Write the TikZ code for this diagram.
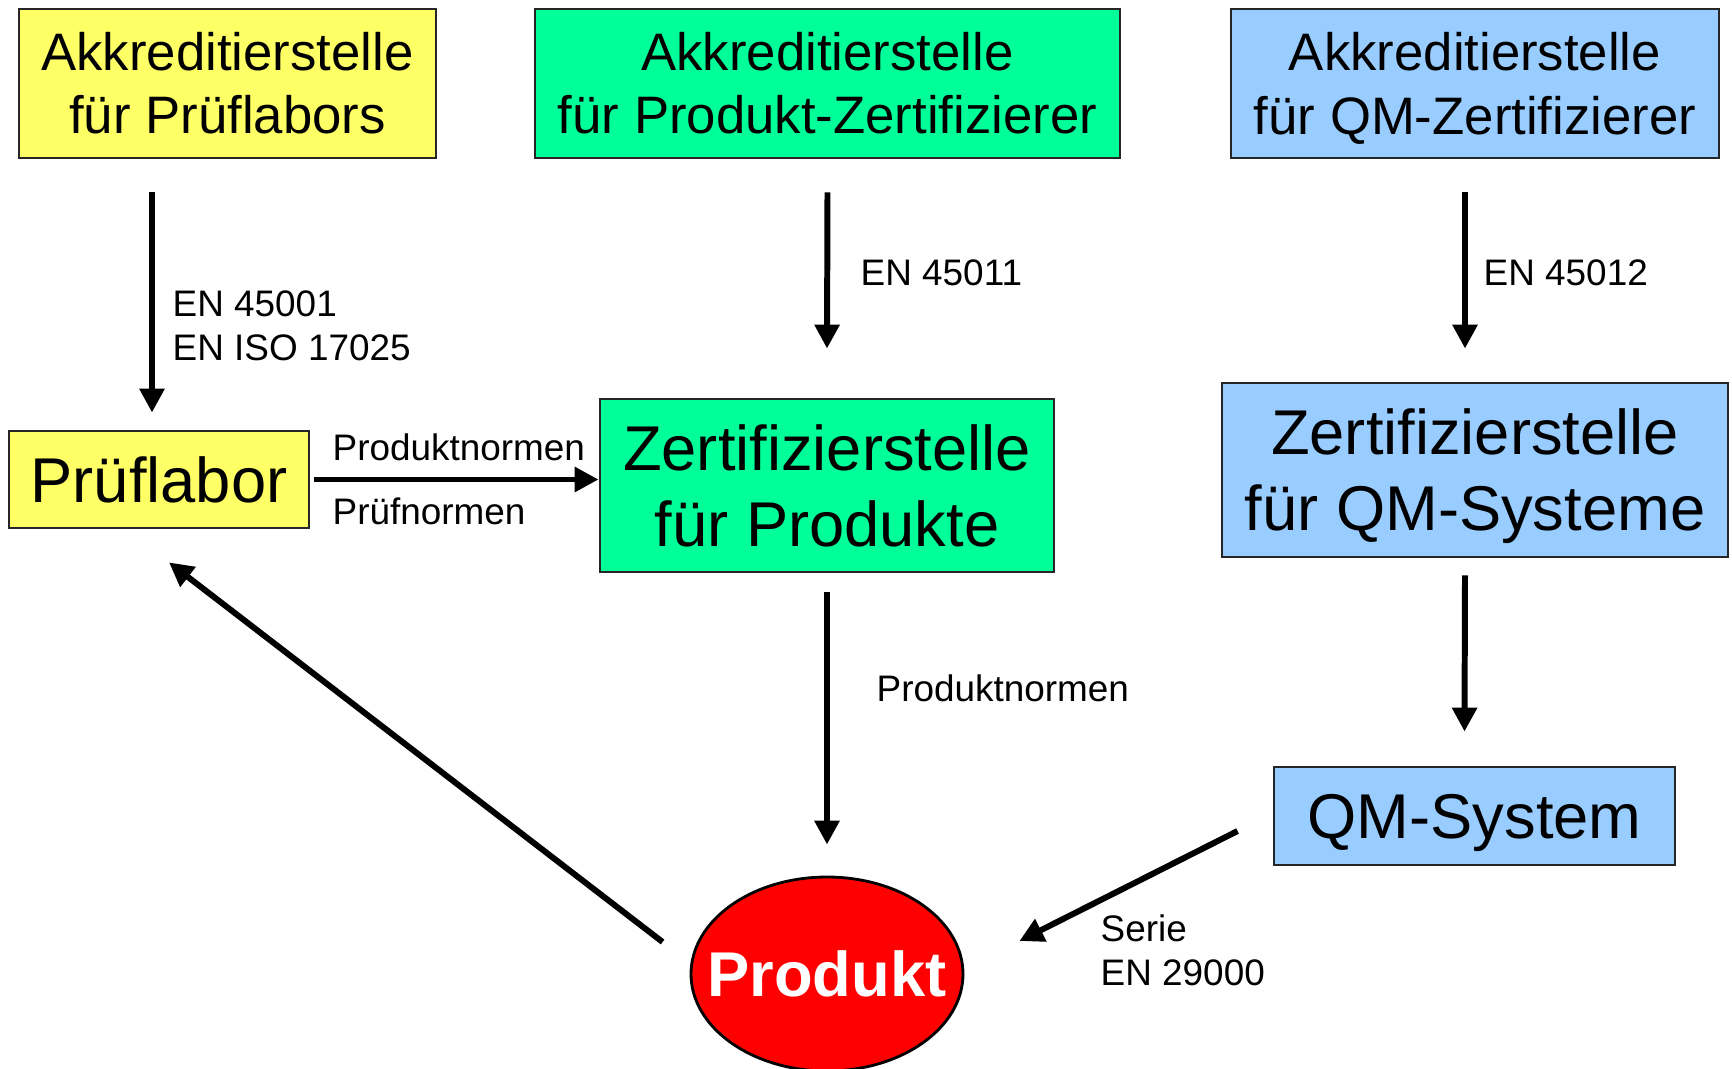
\documentclass[tikz,border=0pt]{standalone}
\usepackage{fontspec}
\setmainfont[Ligatures=NoCommon]{Liberation Sans}
\usepackage{tikz}
\usetikzlibrary{shapes,arrows.meta,positioning,calc}

\definecolor{labgelb}{RGB}{255,255,102}
\definecolor{prodgruen}{RGB}{0,255,153}
\definecolor{qmblau}{RGB}{153,204,255}
\definecolor{prodrot}{RGB}{255,0,0}

\tikzset{
    box/.style={draw=black!85, line width=0.8pt, align=center, inner sep=0pt},
    kleinbox/.style={box, font=\fontsize{15}{18}\selectfont, minimum height=1.49cm},
    grossbox/.style={box, font=\fontsize{18}{21.6}\selectfont},
    pfeil/.style={-{Triangle[length=0.24cm,width=0.24cm]}, line width=1.7pt},
    norm/.style={anchor=west, align=left, inner sep=0pt, font=\fontsize{10.5}{12.5}\selectfont}
}

\begin{document}
\begin{tikzpicture}
    \useasboundingbox (0,0) rectangle (17.32,-10.68);
    % Akkreditierstellen
    \node[kleinbox, fill=labgelb, minimum width=4.17cm] (akpl) at (2.275,-0.835) {Akkreditierstelle\\für Prüflabors};
    \node[kleinbox, fill=prodgruen, minimum width=5.85cm] (akpz) at (8.275,-0.835) {Akkreditierstelle\\für Produkt-Zertifizierer};
    \node[kleinbox, fill=qmblau, minimum width=4.88cm] (akqz) at (14.75,-0.835) {Akkreditierstelle\\\smash{für QM-Zertifizierer}};
    % Stellen
    \node[grossbox, fill=labgelb, minimum width=3.0cm, minimum height=0.97cm] (labor) at (1.59,-4.795) {Prüflabor};
    \node[grossbox, fill=prodgruen, minimum width=4.54cm, minimum height=1.73cm] (zprod) at (8.27,-4.855) {Zertifizierstelle\\für Produkte};
    \node[grossbox, fill=qmblau, minimum width=5.06cm, minimum height=1.74cm] (zqm) at (14.75,-4.70) {Zertifizierstelle\\\smash{für QM-Systeme}};
    \node[grossbox, fill=qmblau, minimum width=4.01cm, minimum height=0.98cm, text depth=0pt] (qmsys) at (14.745,-8.16) {QM-System};
    \node[ellipse, draw=black, line width=0.8pt, fill=prodrot, minimum width=2.72cm, minimum height=1.94cm, inner sep=0pt,
          text=white, font=\fontsize{18}{21.6}\selectfont\bfseries] (produkt) at (8.27,-9.74) {\makebox[0pt][c]{Produkt}};

    % Pfeile
    \draw[pfeil] ([xshift=-0.07cm,yshift=-0.33cm]labor.north |- akpl.south) -- ([xshift=-0.07cm,yshift=0.17cm]labor.north);
    \draw[pfeil] ([yshift=-0.33cm]akpz.south) -- ([yshift=0.49cm]zprod.north);
    \draw[pfeil] ([xshift=-0.1cm,yshift=-0.33cm]akqz.south) -- ([xshift=-0.1cm,yshift=0.33cm]zqm.north);
    \draw[pfeil] ([xshift=-0.1cm,yshift=-0.17cm]zqm.south) -- ([xshift=-0.1cm,yshift=0.34cm]qmsys.north);
    \draw[pfeil] ([yshift=-0.19cm]zprod.south) -- ([yshift=0.31cm]produkt.north);
    \draw[pfeil] ([xshift=0.04cm]labor.east) -- (labor.east -| zprod.west);
    \draw[pfeil] ([shift={(-0.35,-0.15)}]qmsys.west) -- ([shift={(0.55,0.33)}]produkt.east);
    \draw[pfeil] ([shift={(-0.27,0.32)}]produkt.west) -- ([shift={(0.1,-0.33)}]labor.south);

    % Normen
    \node[norm] (n1) at (1.72,-3.26) {EN 45001\\EN ISO 17025};
    \node[norm] (n2) at (8.60,-2.73) {EN 45011};
    \node[norm] (n3) at (14.83,-2.73) {EN 45012};
    \node[norm] (n4) at (3.32,-4.47) {Produktnormen};
    \node[norm] (n5) at (3.32,-5.11) {Prüfnormen};
    \node[norm] (n6) at (8.76,-6.88) {Produktnormen};
    \node[norm] (n7) at (11.00,-9.50) {Serie\\EN 29000};
\end{tikzpicture}
\end{document}
